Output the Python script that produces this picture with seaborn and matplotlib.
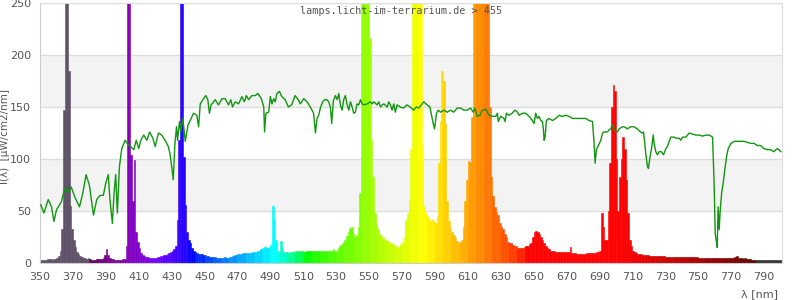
import matplotlib
matplotlib.use("Agg")
import matplotlib.pyplot as plt
import numpy as np
import pandas as pd
import seaborn as sns

# ---------------- data ----------------
wavelengths = list(range(350, 801))  # 1 nm bins
intensity = [
    3, 3, 3, 3, 4, 4, 4, 3, 4, 4,            # 350
    5, 7, 12, 33, 147, 300, 300, 185, 55, 33,  # 360
    22, 15, 11, 9, 7, 6, 5, 5, 4, 5,         # 370
    4, 3, 3, 3, 4, 4, 4, 4, 5, 8,            # 380
    13, 8, 5, 4, 4, 3, 3, 3, 3, 3,           # 390
    4, 4, 16, 300, 300, 104, 60, 99, 30, 20,  # 400
    14, 10, 8, 7, 6, 6, 5, 5, 5, 5,          # 410
    5, 6, 6, 7, 7, 8, 8, 9, 10, 11,          # 420
    12, 13, 16, 41, 118, 300, 300, 102, 56, 30,  # 430
    22, 19, 14, 12, 11, 10, 9, 9, 9, 8,      # 440
    8, 7, 7, 6, 6, 6, 6, 5, 5, 5,            # 450
    5, 5, 6, 5, 5, 6, 6, 7, 8, 8,            # 460
    9, 9, 9, 10, 10, 10, 10, 10, 10, 11,     # 470
    11, 11, 12, 12, 13, 14, 15, 15, 14, 15,  # 480
    17, 55, 42, 22, 12, 11, 21, 13, 11, 11,  # 490
    11, 10, 11, 11, 11, 12, 11, 12, 12, 12,  # 500
    11, 12, 12, 12, 12, 12, 12, 12, 12, 12,  # 510
    12, 12, 12, 12, 12, 12, 12, 12, 13, 12,  # 520
    12, 14, 16, 18, 20, 22, 26, 30, 34, 35,  # 530
    28, 25, 27, 35, 67, 300, 300, 300, 300, 300,  # 540
    216, 118, 83, 48, 38, 33, 28, 26, 24, 23,  # 550
    22, 21, 20, 19, 18, 17, 16, 15, 16, 18,  # 560
    20, 25, 41, 48, 60, 110, 300, 300, 300, 300,  # 570
    300, 300, 112, 55, 48, 45, 42, 40, 42, 40,  # 580
    38, 45, 96, 137, 185, 175, 134, 60, 40, 34,  # 590
    30, 27, 24, 21, 20, 19, 22, 35, 60, 80,  # 600
    98, 97, 140, 300, 300, 300, 300, 300, 300, 300,  # 610
    300, 300, 300, 150, 83, 64, 54, 49, 46, 38,  # 620
    35, 33, 28, 25, 20, 19, 19, 17, 16, 16,  # 630
    14, 14, 14, 14, 15, 16, 16, 18, 19, 25,  # 640
    30, 31, 30, 28, 25, 22, 19, 16, 14, 13,  # 650
    12, 12, 12, 11, 11, 11, 11, 11, 11, 11,  # 660
    11, 11, 15, 10, 10, 10, 9, 9, 9, 9,      # 670
    9, 9, 10, 10, 10, 10, 10, 10, 11, 11,    # 680
    12, 48, 35, 22, 22, 50, 96, 150, 171, 165,  # 690
    100, 50, 83, 100, 121, 110, 80, 48, 22, 16,  # 700
    12, 11, 10, 9, 9, 9, 8, 8, 8, 8,         # 710
    7, 7, 7, 7, 7, 7, 7, 7, 7, 7,            # 720
    6, 6, 6, 6, 6, 6, 6, 6, 6, 6,            # 730
    6, 6, 6, 6, 6, 6, 6, 6, 6, 6,            # 740
    5, 5, 5, 5, 5, 5, 5, 5, 5, 5,            # 750
    5, 5, 5, 5, 5, 5, 5, 5, 5, 5,            # 760
    5, 5, 6, 7, 5, 5, 5, 4, 5, 4,            # 770
    4, 4, 3, 3, 3, 3, 3, 3, 3, 3,            # 780
    3, 3, 3, 3, 3, 3, 3, 3, 3, 3, 3,         # 790-800
]

ref_nm = [
    350.5, 352.4, 355, 357, 358.5, 360, 363, 365, 367, 369, 371, 374, 376, 378, 380,
    382.5, 384.5, 386.5, 388.5, 390, 391.5, 392.5, 394, 395, 396, 397, 398.3, 399.7,
    401.7, 403, 405, 407, 408.5, 410, 411.3, 413, 415, 416.6, 418.6, 420, 422, 424,
    426, 428, 429, 430, 431, 432, 433, 433.6, 434.8, 435.6, 436.8, 438.3, 440, 441.3,
    443.3, 445.3, 446.4, 447.4, 449.4, 450.8, 452, 453, 454, 456.5, 458.5, 460.6,
    462.6, 464.6, 466, 467, 468.7, 470.7, 472.7, 474.2, 475.4, 476.8, 478.8, 480.8,
    482.5, 484.5, 486, 486.5, 487.3, 489, 490, 491, 492, 493, 494, 495.5, 497, 499,
    501, 503, 505, 507, 508.2, 510.3, 512.3, 514.3, 516.3, 517.4, 518.4, 519.4, 520.4,
    521.8, 523, 524.5, 525.5, 526.5, 527.3, 528.3, 529.5, 530.6, 531.6, 532.6, 533.6,
    534.6, 535.6, 536.6, 537.7, 538.7, 539.7, 540.7, 541.7, 542.7, 543.7, 544.8,
    545.8, 546.8, 548.8, 550.8, 551.9, 552.9, 554.9, 555.9, 557, 558, 559, 561, 562,
    563, 564, 565, 566, 567, 569, 571, 573, 575, 577, 578.8, 580.3, 581.7, 583.3,
    585.3, 587, 588, 589, 589.8, 591, 592, 593.4, 595.5, 597.5, 599.5, 601.5, 603.6,
    605.6, 607.6, 609.7, 611.7, 613.3, 614.3, 615.7, 617.4, 618.9, 620.9, 621.9, 623,
    625, 627, 628, 628.6, 630, 632, 632.7, 633.5, 635, 637, 638.7, 640.2, 641.2,
    643.2, 645.2, 647.3, 649.3, 650.3, 651.3, 652.3, 653.3, 654.4, 655.4, 656, 656.4,
    657, 657.8, 659.4, 661.5, 663.5, 665.5, 667.5, 669.6, 671.6, 673.6, 675.7, 677.7,
    679.7, 681.7, 683.8, 685.8, 686.8, 687.4, 688.2, 689.4, 690.9, 691.9, 692.9,
    694.9, 695.9, 696.9, 698, 699, 700, 701, 702, 704, 705, 707, 709, 711, 713, 715,
    716.2, 716.8, 717.6, 718.2, 719.2, 719.8, 720.8, 721.9, 722.7, 723.3, 724.3,
    725.3, 726.3, 727.7, 729, 730.4, 731.4, 732.4, 733.4, 735.5, 736.5, 738.5, 739.5,
    740.5, 742.6, 744.6, 746.6, 748.6, 750.7, 752.7, 754.7, 756.8, 758.8, 759.8,
    760.4, 761, 761.6, 762.2, 762.8, 763.4, 764.3, 765.5, 766.5, 767.5, 768.3, 770,
    772, 774, 776, 778, 780, 782, 784, 786, 788, 790, 792, 794, 796, 797.3, 798.3, 800.3,
]
ref_val = [
    56, 48, 61, 54, 40, 51, 59, 72, 68, 73, 64, 54, 67, 85, 75,
    46, 61, 65, 65, 77, 85, 61, 38, 67, 85, 48, 93, 110,
    118, 115, 112, 109, 118, 110, 118, 123, 118, 126, 120, 112, 125, 123,
    118, 112, 105, 93, 80, 115, 131, 118, 136, 126, 139, 117, 133, 137,
    144, 142, 131, 153, 158, 161, 157, 144, 152, 157, 152, 158,
    158, 152, 157, 150, 155, 153, 160, 155, 161, 157, 161, 161,
    163, 158, 150, 126, 144, 145, 160, 153, 158, 155, 163, 165, 160, 157,
    150, 152, 161, 157, 153, 158, 155, 150, 144, 125, 139, 142, 149,
    155, 157, 157, 155, 150, 134, 156, 161, 157, 163, 152, 147,
    157, 161, 153, 147, 155, 150, 144, 145, 153, 152, 157,
    153, 152, 153, 155, 153, 155, 152, 155, 150, 152, 153, 150, 155,
    152, 147, 153, 145, 152, 150, 149, 152, 150, 147, 150, 149, 152, 155,
    152, 150, 142, 134, 129, 144, 147, 145, 147, 145, 147, 145, 149,
    149, 147, 147, 149, 145, 149, 141, 142, 147, 148, 145, 142,
    141, 141, 144, 136, 141, 139, 136, 144, 142, 144, 147, 145, 142,
    144, 144, 141, 137, 134, 144, 139, 141, 137, 136, 128, 118,
    121, 137, 139, 137, 139, 142, 141, 142, 141, 139, 139, 139,
    139, 139, 137, 136, 115, 96, 109, 113, 118, 125, 126,
    126, 128, 129, 133, 129, 126, 126, 129, 131, 131, 129, 131, 131, 129, 126,
    125, 126, 115, 105, 93, 91, 102, 112, 123, 115, 107,
    104, 107, 107, 104, 110, 112, 117, 121, 121, 120, 120, 118,
    121, 121, 125, 124, 123, 123, 122, 123, 123, 121, 73,
    28, 22, 15, 54, 32, 49, 67, 80, 93, 104, 110, 115,
    117, 117, 117, 117, 116, 115, 115, 113, 113, 110, 109, 109, 107, 109, 110, 107,
]

x_ticks = list(range(350, 791, 20))
y_ticks = [0, 50, 100, 150, 200, 250]
title = "lamps.licht-im-terrarium.de > 455"
y_label = "I(λ)  [µW/cm2/nm]"
x_label = "λ [nm]"


# ------------- colours (wavelength -> RGB) -------------
def wl_color(w):
    w = (w // 5) * 5
    if w < 380:
        return "#5e5066"
    if w > 780:
        return "#333333"
    if w < 440:
        r, g, b = -(w - 440) / 60, 0.0, 1.0
    elif w < 490:
        r, g, b = 0.0, (w - 440) / 50, 1.0
    elif w < 510:
        r, g, b = 0.0, 1.0, -(w - 510) / 20
    elif w < 580:
        r, g, b = (w - 510) / 70, 1.0, 0.0
    elif w < 645:
        r, g, b = 1.0, -(w - 645) / 65, 0.0
    else:
        r, g, b = 1.0, 0.0, 0.0
    if w < 420:
        f = 0.3 + 0.7 * (w - 380) / 40
    elif w > 700:
        f = 0.3 + 0.7 * (780 - w) / 80
    else:
        f = 1.0
    conv = lambda c: (c * f) ** 0.8 if c > 0 else 0.0
    return (conv(r), conv(g), conv(b))


palette = {w: wl_color(w) for w in wavelengths}

df = pd.DataFrame({"nm": wavelengths, "pos": [w + 0.5 for w in wavelengths], "I": intensity})

# ---------------- figure ----------------
fig = plt.figure(figsize=(8, 3), dpi=100)
ax = fig.add_axes([40 / 800, 37 / 300, 742 / 800, 260 / 300])
ax.set_facecolor("white")

for lo, hi in [(50, 100), (150, 200)]:
    ax.axhspan(lo, hi, color="#f3f3f3", zorder=0, lw=0)
for y in y_ticks[1:]:
    ax.axhline(y, color="#dddddd", lw=1, zorder=0.5)

sns.barplot(data=df, x="pos", y="I", hue="nm", palette=palette, native_scale=True,
            width=1, errorbar=None, legend=False, saturation=1, ax=ax, zorder=2)
for p in ax.patches:
    p.set_edgecolor(p.get_facecolor())
    p.set_linewidth(0.4)

sns.lineplot(x=ref_nm, y=ref_val, color="#109610", linewidth=1, ax=ax, zorder=3)

ax.set_xlim(350, 801)
ax.set_ylim(0, 250)
ax.set_xticks(x_ticks)
ax.set_xticklabels([str(t) for t in x_ticks])
ax.set_yticks(y_ticks)
ax.set_yticklabels([str(t) for t in y_ticks])
ax.tick_params(length=0, labelsize=8, labelcolor="#555555", pad=6.5)
ax.set_xlabel("")
ax.set_ylabel("")
for s in ["left", "bottom"]:
    ax.spines[s].set_color("#cccccc")
for s in ["right", "top"]:
    ax.spines[s].set_color("#dddddd")

fig.text(401 / 800, 1 - 11 / 300, title, ha="center", va="center",
         family="DejaVu Sans Mono", fontsize=7.3, color="#555555")
fig.text(5 / 800, 1 - 136 / 300, y_label, rotation=90, ha="center", va="center",
         fontsize=7.5, color="#555555")
fig.text(778 / 800, 1 - 294 / 300, x_label, ha="right", va="center",
         fontsize=8, color="#555555")

fig.savefig("out.png", dpi=100)
